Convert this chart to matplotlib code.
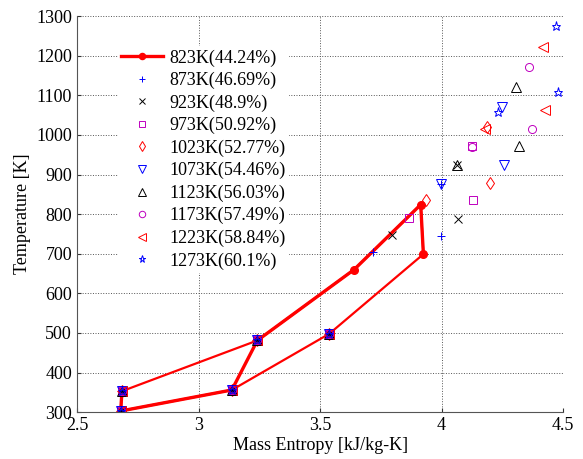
import matplotlib
matplotlib.use('Agg')
import matplotlib.pyplot as plt
from matplotlib.lines import Line2D

# turbine inlet temperature and cycle efficiency for each case
temps = [823, 873, 923, 973, 1023, 1073, 1123, 1173, 1223, 1273]
effs = ['44.24', '46.69', '48.9', '50.92', '52.77', '54.46', '56.03', '57.49', '58.84', '60.1']

# state points shared by all cases (compressor / low temperature side)
s_low = [2.680, 2.685, 3.242]
T_low = [303, 353, 481]
s_ret = [3.538, 3.137]
T_ret = [498, 356]

# state points that change with the inlet temperature
s_mid = [3.640, 3.718, 3.795, 3.866, 3.934, 3.997, 4.062, 4.123, 4.178, 4.233]
T_mid = [660, 705, 748, 791, 835, 877, 923, 969, 1015, 1058]
s_top = [3.914, 3.997, 4.062, 4.125, 4.185, 4.247, 4.306, 4.360, 4.418, 4.470]
T_top = [824, 876, 925, 972, 1021, 1070, 1122, 1171, 1222, 1274]
s_out = [3.925, 3.998, 4.069, 4.130, 4.199, 4.257, 4.318, 4.373, 4.425, 4.479]
T_out = [699, 744, 788, 835, 879, 925, 973, 1016, 1064, 1108]

markers = ['o', '+', 'x', 's', 'd', 'v', '^', 'o', '<', '*']
sizes = [5.5, 6, 5.5, 5.5, 6, 7, 7, 5.8, 7, 6.5]
colors = ['r', 'b', 'k', 'm', 'r', 'b', 'k', 'm', 'r', 'b']

plt.rcParams['font.family'] = ['Liberation Serif', 'DejaVu Serif']
fs = 13

fig = plt.figure(figsize=(5.83, 4.59), dpi=100)
ax = fig.add_axes([0.132, 0.102, 0.834, 0.863])

handles, labels = [], []
for i, t in enumerate(temps):
    s = s_low + [s_mid[i], s_top[i], s_out[i]] + s_ret
    T = T_low + [T_mid[i], T_top[i], T_out[i]] + T_ret
    labels.append(f'{t}K({effs[i]}%)')
    if i == 0:
        # closed cycle drawn as a line
        loop = [0, 1, 2, 3, 4, 5, 6, 7, 0]
        thick = [1, 0, 7, 2, 3, 4, 5]
        ax.plot([s[k] for k in loop], [T[k] for k in loop], '-', color='r', lw=1.6)
        ax.plot([s[k] for k in thick], [T[k] for k in thick], '-', color='r', lw=2.4)
        ax.plot(s, T, 'o', color='r', ms=sizes[i])
        handles.append(Line2D([], [], color='r', lw=2.4, marker='o', ms=sizes[i]))
    else:
        h, = ax.plot(s, T, linestyle='none', marker=markers[i], color=colors[i],
                     mfc='none', ms=sizes[i], mew=0.7)
        handles.append(h)

ax.set_xlim(2.5, 4.5)
ax.set_ylim(300, 1300)
ax.set_xticks([2.5, 3, 3.5, 4, 4.5])
ax.set_xticklabels(['2.5', '3', '3.5', '4', '4.5'])
ax.set_yticks(range(300, 1301, 100))
ax.tick_params(direction='in', labelsize=fs, length=3, colors='#333333', labelcolor='black')
ax.grid(True, linestyle=':', color='#555555', linewidth=0.7)
ax.spines['top'].set_visible(False)
ax.spines['right'].set_visible(False)
for sp in ['left', 'bottom']:
    ax.spines[sp].set_color('#555555')
ax.set_xlabel('Mass Entropy [kJ/kg-K]', fontsize=fs, labelpad=2)
ax.set_ylabel('Temperature [K]', fontsize=fs, labelpad=4)

ax.legend(handles, labels, loc='upper left', bbox_to_anchor=(0.065, 0.948),
          fontsize=fs, frameon=True, edgecolor='none', facecolor='white',
          framealpha=1, labelspacing=0.29, handlelength=2.3, handletextpad=0.35,
          borderpad=0.2, markerscale=0.8)

fig.savefig('out.png', dpi=100)
